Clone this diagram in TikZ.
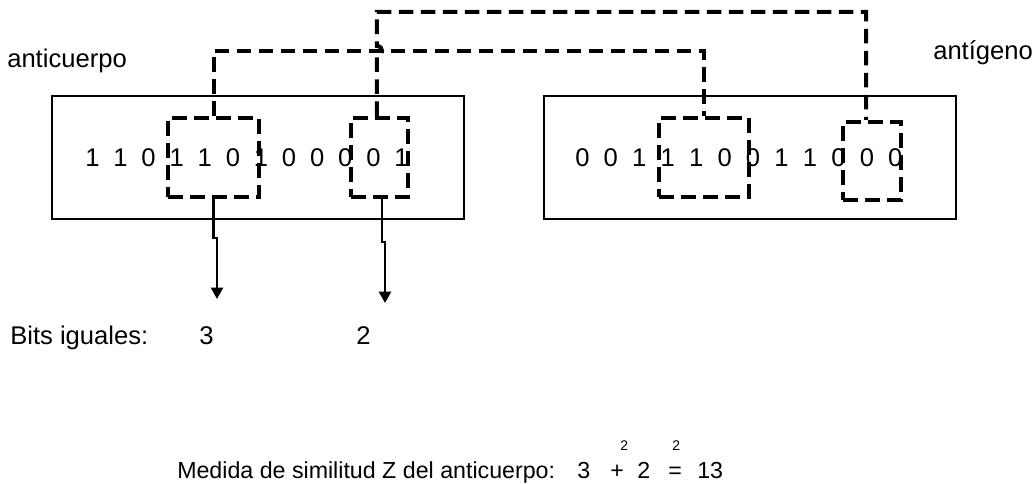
\documentclass[tikz,border=0pt]{standalone}
\usepackage{fontspec}
\setmainfont{Liberation Sans}
\usetikzlibrary{arrows.meta}
\usetikzlibrary{fit}

\begin{document}
\begin{tikzpicture}[x=0.75pt, y=-0.75pt, >={Triangle[width=9pt,length=8.5pt]},
        strand/.style={draw, line width=1.6pt, inner sep=0pt},
        match/.style={draw, line width=3pt, dash pattern=on 11pt off 5.5pt, inner sep=0pt},
        matchlink/.style={line width=3pt, dash pattern=on 11pt off 5.5pt},
        outarrow/.style={->, line width=1.8pt},
        txt/.style={inner sep=0pt, anchor=base west, font=\fontsize{19.2}{22}\selectfont},
        bit/.style={txt},
        small/.style={inner sep=0pt, anchor=base west, font=\fontsize{17.4}{20}\selectfont},
        power/.style={inner sep=0pt, anchor=base west, font=\fontsize{10.5}{12}\selectfont}]
                \useasboundingbox (0,0) rectangle (1036,484);

                % cadenas de bits
                \node[strand, fit={(52,96) (464,219)}] (anti) {};
                \node[strand, fit={(544,96) (956,219)}] (antigen) {};
                \node[txt] (antiname) at (7,68) {anticuerpo};
                \node[txt] (agname) at (933,60) {antígeno};

                \foreach \b [count=\i from 0] in {1,1,0,1,1,0,1,0,0,0,0,1}
                    \node[bit] (ab\i) at (85+\i*28.1, 167) {\b};
                \foreach \b [count=\i from 0] in {0,0,1,1,1,0,0,1,1,0,0,0}
                    \node[bit] (gb\i) at (575+\i*28.45, 167) {\b};

                % ventanas que coinciden
                \node[match, fit={(168,118) (259,197)}] (la) {};
                \node[match, fit={(351,118) (408,197)}] (lb) {};
                \node[match, fit={(659,118) (749,197)}] (ra) {};
                \node[match, fit={(843,122) (901,200)}] (rb) {};

                \draw[matchlink] (la.north) -- ++(0,-65) -| (ra.north);
                \draw[matchlink] ([xshift=-2pt]lb.north) -- ++(0,-60)
                    to[out=0, in=0, looseness=1.8] ++(0,-10) -- ++(0,-34) -| ([xshift=-4.5pt]rb.north);

                \coordinate (ta) at (217,299);
                \coordinate (tb) at (385,303);
                \draw[outarrow] (la.south) -- ++(0,39) -| (ta);
                \draw[outarrow] ([xshift=2pt]lb.south) -- ++(0,43) -| (tb);

                \node[txt] (bits) at (10,345) {Bits iguales:};
                \node[txt] (na) at (199,345) {3};
                \node[txt] (nb) at (356,345) {2};

                % medida de similitud
                \node[small] (medida) at (177,479) {Medida de similitud Z del anticuerpo:};
                \node[small] (za) at (577,479) {3};
                \node[small] (plus) at (610,479) {+};
                \node[small] (zb) at (637,479) {2};
                \node[small] (eq) at (668,479) {=};
                \node[small] (zsum) at (697,479) {13};
                \node[power] (pa) at (620,451) {2};
                \node[power] (pb) at (672,451) {2};
            \end{tikzpicture}
\end{document}
